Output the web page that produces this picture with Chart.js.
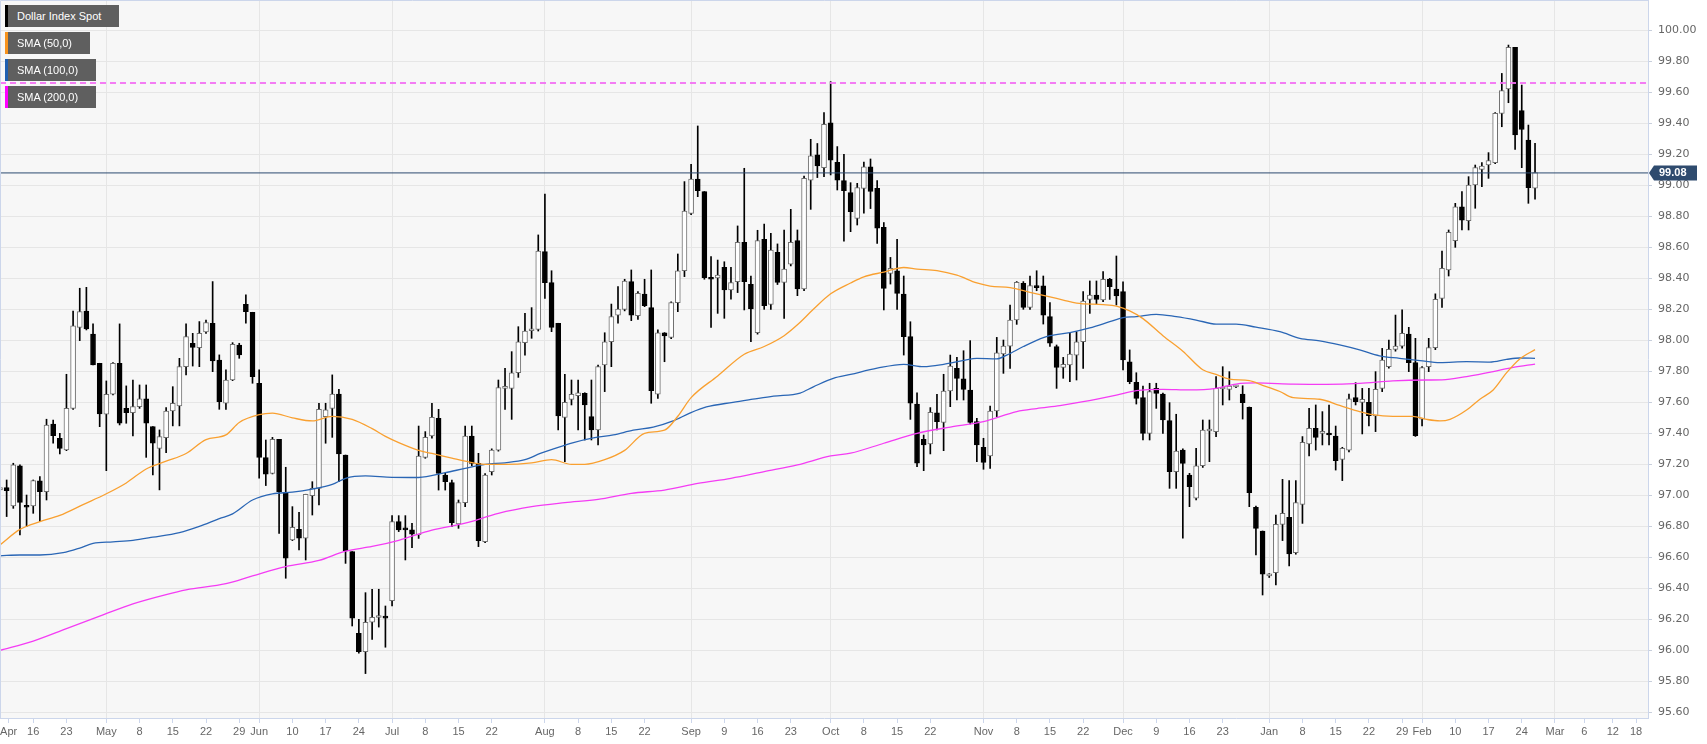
<!DOCTYPE html>
<html>
<head>
<meta charset="utf-8">
<script src="https://cdn.jsdelivr.net/npm/chart.js@4.4.1/dist/chart.umd.min.js"></script>
<style>
html,body{margin:0;padding:0;background:#fff;}
#wrap{position:relative;width:1707px;height:744px;overflow:hidden;}
canvas{display:block;}
.lg{position:absolute;left:5px;height:22px;background:#5f5f5f;color:#fff;font:11px 'Liberation Sans',Arial,sans-serif;line-height:22px;padding-left:9px;box-sizing:border-box;border-left:3px solid #000;white-space:nowrap;}
</style>
</head>
<body>
<div id="wrap">
<canvas id="c" width="1707" height="744"></canvas>
<div class="lg" style="top:5px;width:114px;border-left-color:#000;">Dollar Index Spot</div>
<div class="lg" style="top:32px;width:85px;border-left-color:#f7931e;">SMA (50,0)</div>
<div class="lg" style="top:59px;width:91px;border-left-color:#1f5fb0;">SMA (100,0)</div>
<div class="lg" style="top:86px;width:91px;border-left-color:#ff00ff;">SMA (200,0)</div>
</div>
<script>
// ---------- DATA ----------
// x positions are trading-day indices (0 = 9 Apr 2019, weekdays only)
const xTickPos    = [1.3,5,10,16,21,26,31,36,39,44,49,54,59,64,69,74,82,87,92,97,104,109,114,119,125,130,135,140,148,153,158,163,169,174,179,184,191,196,201,206,211,214,219,224,229,234,238.4,242.7,246.2];
const xTickLabels = ['Apr','16','23','May','8','15','22','29','Jun','10','17','24','Jul','8','15','22','Aug','8','15','22','Sep','9','16','23','Oct','8','15','22','Nov','8','15','22','Dec','9','16','23','Jan','8','15','22','29','Feb','10','17','24','Mar','6','12','18'];
const monthPos    = [16,39,59,82,104,125,148,169,191,214,234];
const yTicks      = [95.6,95.8,96.0,96.2,96.4,96.6,96.8,97.0,97.2,97.4,97.6,97.8,98.0,98.2,98.4,98.6,98.8,99.0,99.2,99.4,99.6,99.8,100.0];

const opens = [97.035,97.050,96.931,97.190,96.931,96.931,97.093,97.024,97.460,97.368,97.293,97.561,98.084,98.189,98.041,97.852,97.523,97.652,97.852,97.561,97.533,97.572,97.622,97.443,97.303,97.372,97.544,97.577,97.830,97.981,97.953,98.054,98.110,97.873,97.594,97.744,97.970,98.232,98.181,97.723,97.243,97.142,97.362,97.017,96.712,96.781,96.723,96.998,97.045,97.508,97.561,97.654,97.260,96.637,96.110,95.992,96.181,96.212,96.210,96.321,96.830,96.781,96.777,96.745,97.245,97.383,97.497,97.131,97.082,96.815,96.953,97.383,97.206,96.701,97.153,97.292,97.690,97.690,97.791,97.985,98.062,98.071,98.572,98.372,98.110,97.503,97.619,97.643,97.658,97.508,97.422,97.841,97.991,98.163,98.200,98.379,98.159,98.299,98.211,97.652,98.049,98.019,98.243,98.449,98.819,99.041,98.959,98.404,98.402,98.471,98.325,98.379,98.632,98.361,98.049,98.652,98.232,98.568,98.374,98.492,98.643,98.331,99.034,99.196,99.114,99.404,99.148,99.030,98.953,98.787,98.980,99.120,98.980,98.729,98.432,98.449,98.299,98.024,97.589,97.361,97.331,97.533,97.471,97.673,97.819,97.751,97.679,97.475,97.310,97.254,97.544,97.912,97.963,98.131,98.368,98.213,98.345,98.351,98.153,97.959,97.826,97.841,97.905,97.991,98.264,98.292,98.260,98.394,98.331,98.314,97.862,97.729,97.630,97.400,97.690,97.654,97.482,97.153,97.292,97.131,96.981,97.191,97.415,97.411,97.686,97.684,97.700,97.654,97.568,96.923,96.770,96.480,96.501,96.813,96.858,96.630,96.942,97.331,97.432,97.400,97.392,97.383,97.232,97.292,97.630,97.600,97.600,97.512,97.690,97.830,97.942,97.963,98.041,97.856,97.492,97.830,97.953,98.271,98.454,98.643,98.862,98.772,99.002,99.103,99.131,99.146,99.464,99.622,99.890,99.482,99.292,98.981];
const highs = [97.099,97.099,97.207,97.196,97.002,97.099,97.121,97.491,97.486,97.400,97.781,98.189,98.336,98.342,98.106,97.852,97.738,97.856,98.106,97.706,97.744,97.712,97.712,97.443,97.422,97.566,97.701,97.884,98.106,98.045,98.121,98.131,98.379,97.906,97.809,97.985,97.981,98.293,98.181,97.809,97.357,97.374,97.362,97.181,96.927,96.890,97.007,97.088,97.594,97.594,97.777,97.684,97.260,96.637,96.200,96.372,96.394,96.394,96.286,96.869,96.869,96.869,96.820,97.447,97.411,97.594,97.555,97.142,97.099,96.970,97.447,97.447,97.271,97.140,97.300,97.744,97.819,97.927,98.088,98.174,98.211,98.680,98.944,98.449,98.110,97.781,97.744,97.744,97.662,97.744,97.841,98.049,98.234,98.346,98.394,98.454,98.314,98.394,98.454,98.067,98.050,98.249,98.557,99.024,99.135,99.383,98.960,98.540,98.518,98.507,98.471,98.738,99.110,98.415,98.710,98.750,98.690,98.622,98.712,98.845,98.712,99.060,99.297,99.270,99.469,99.669,99.250,99.200,99.017,99.013,99.150,99.170,99.030,98.760,98.535,98.652,98.415,98.120,97.662,97.389,97.566,97.652,97.781,97.905,97.890,97.933,97.998,97.497,97.368,97.576,98.019,98.002,98.228,98.379,98.379,98.415,98.449,98.415,98.243,97.970,97.890,98.045,98.056,98.314,98.383,98.383,98.443,98.400,98.544,98.378,97.938,97.791,97.705,97.723,97.723,97.660,97.598,97.523,97.300,97.142,97.303,97.486,97.486,97.766,97.830,97.798,97.710,97.707,97.570,96.931,96.770,96.495,96.873,97.103,97.095,97.095,97.379,97.561,97.583,97.540,97.583,97.447,97.310,97.654,97.727,97.690,97.690,97.798,97.948,98.002,98.163,98.196,98.084,98.013,97.830,98.013,98.300,98.576,98.712,98.884,98.959,99.056,99.131,99.146,99.211,99.470,99.722,99.905,99.890,99.647,99.389,99.271];
const lows  = [96.992,96.863,96.916,96.744,96.798,96.884,96.830,96.970,97.336,97.267,97.288,97.555,97.998,98.067,97.841,97.443,97.159,97.648,97.454,97.465,97.383,97.561,97.245,97.131,97.035,97.276,97.448,97.448,97.777,97.834,97.830,98.045,97.798,97.555,97.555,97.740,97.884,98.110,97.723,97.110,97.063,97.138,96.755,96.465,96.708,96.647,96.583,96.873,96.938,97.336,97.374,97.088,96.561,96.157,95.981,95.850,96.071,96.150,96.020,96.286,96.766,96.583,96.663,96.722,97.239,97.368,97.034,97.034,96.798,96.787,96.927,97.190,96.669,96.695,97.131,97.285,97.555,97.490,97.761,97.905,98.013,98.060,98.271,98.056,97.422,97.217,97.583,97.422,97.357,97.357,97.325,97.669,97.830,98.110,98.190,98.127,98.135,98.217,97.594,97.626,97.862,98.010,98.185,98.411,98.810,98.927,98.394,98.084,98.174,98.142,98.265,98.308,98.196,97.991,98.040,98.200,98.200,98.360,98.142,98.480,98.288,98.320,98.845,99.050,99.056,99.067,98.970,98.640,98.701,98.744,98.820,98.850,98.626,98.196,98.363,98.200,97.905,97.490,97.185,97.159,97.267,97.422,97.288,97.572,97.615,97.615,97.460,97.217,97.168,97.174,97.508,97.787,97.819,98.103,98.200,98.200,98.320,98.105,97.960,97.690,97.755,97.733,97.744,97.819,98.174,98.234,98.250,98.264,98.228,97.809,97.720,97.589,97.357,97.357,97.561,97.400,97.045,97.045,96.723,96.927,96.970,97.180,97.217,97.378,97.583,97.615,97.695,97.492,96.927,96.615,96.357,96.470,96.422,96.708,96.544,96.620,96.819,97.254,97.292,97.325,97.325,97.163,97.095,97.280,97.583,97.396,97.447,97.411,97.669,97.820,97.930,97.950,97.798,97.380,97.447,97.798,97.940,98.213,98.415,98.600,98.712,98.712,98.852,98.991,99.045,99.140,99.378,99.533,99.232,99.114,98.884,98.910];
const closes = [97.050,97.030,97.196,96.955,96.923,97.095,97.024,97.454,97.385,97.303,97.561,98.093,98.185,98.073,97.841,97.525,97.652,97.852,97.465,97.533,97.572,97.622,97.465,97.336,97.379,97.544,97.594,97.830,98.024,97.955,98.045,98.114,97.867,97.605,97.744,97.974,97.906,98.185,97.766,97.245,97.136,97.362,97.024,96.594,96.794,96.723,97.007,97.045,97.555,97.551,97.654,97.267,96.641,96.207,95.992,96.181,96.213,96.220,96.208,96.830,96.777,96.777,96.749,97.254,97.374,97.503,97.142,97.088,96.824,96.953,97.383,97.206,96.708,97.131,97.292,97.695,97.701,97.791,97.991,98.060,98.071,98.576,98.372,98.084,97.512,97.600,97.652,97.662,97.583,97.422,97.830,97.991,98.153,98.202,98.383,98.163,98.303,98.224,97.675,98.049,98.028,98.243,98.449,98.834,99.041,98.966,98.404,98.394,98.421,98.325,98.372,98.632,98.379,98.202,98.643,98.224,98.583,98.374,98.460,98.632,98.331,99.045,99.191,99.125,99.393,99.163,99.034,98.966,98.830,98.985,99.120,98.960,98.723,98.335,98.465,98.303,98.024,97.594,97.207,97.325,97.535,97.475,97.673,97.834,97.755,97.684,97.471,97.325,97.213,97.544,97.920,97.963,98.131,98.374,98.213,98.353,98.340,98.163,97.981,97.826,97.845,97.912,97.991,98.254,98.292,98.264,98.394,98.346,98.286,97.873,97.733,97.626,97.400,97.669,97.658,97.486,97.153,97.286,97.206,97.056,97.191,97.421,97.421,97.690,97.690,97.705,97.702,97.598,97.017,96.787,96.492,96.490,96.813,96.884,96.622,96.953,97.342,97.432,97.374,97.405,97.389,97.224,97.303,97.622,97.604,97.619,97.514,97.684,97.873,97.942,97.963,98.045,97.856,97.385,97.824,97.953,98.264,98.464,98.697,98.862,98.776,99.002,99.114,99.125,99.159,99.464,99.611,99.890,99.325,99.360,98.985,99.082];

const sma50X = [0,3,6,9,12.5,16,19,22,25,28,31,34,36,39,41,44,47,50,53,56,58,60,63,65,68,70,73,76,80,83,86,88,91,94,97,100,102,104,108,112,115,118,120,122.4,125,128,130,133,136,138,141,144,147,149,152,155,158,160,162,166,168,170,172,175,178,181,183,185,188,190,192.6,194.6,198.6,201.6,204.6,206.6,209.6,212.6,214.7,216.7,218.2,220.7,222.7,224.7,226.7,228.7,231];
const sma50Y = [96.68,96.78,96.83,96.87,96.94,97.01,97.08,97.17,97.22,97.27,97.36,97.39,97.47,97.52,97.53,97.50,97.48,97.51,97.49,97.43,97.38,97.34,97.29,97.27,97.24,97.22,97.20,97.20,97.21,97.23,97.20,97.20,97.23,97.29,97.40,97.42,97.51,97.63,97.77,97.91,97.96,98.03,98.10,98.20,98.30,98.37,98.41,98.44,98.47,98.46,98.45,98.42,98.37,98.35,98.34,98.31,98.28,98.26,98.24,98.23,98.22,98.19,98.14,98.03,97.93,97.81,97.78,97.75,97.74,97.71,97.67,97.63,97.62,97.58,97.54,97.52,97.51,97.51,97.49,97.48,97.49,97.55,97.62,97.68,97.79,97.88,97.94];
const sma100X = [0,3,6,9.5,12,14,17,20,23,27,30,33,35,38,41,44,47,50,52,55,59,63,67,70,73,76,79,81.3,83.3,86.3,89.3,92.3,95.3,98.3,101.3,103.8,106.3,110.3,113.3,116.4,120.4,122.4,125.4,128,132,136,139,142,145,147,150,151.5,154,156,158,161,164,167,169,171,174,177,180,183,186,189,192.6,195.6,198.6,201.6,204.6,207.6,210.6,213.7,216.7,220.7,224.2,226.7,228.7,231];
const sma100Y = [96.61,96.615,96.615,96.63,96.66,96.69,96.70,96.71,96.73,96.76,96.80,96.85,96.88,96.97,97.01,97.02,97.04,97.07,97.11,97.125,97.116,97.115,97.146,97.174,97.20,97.21,97.23,97.27,97.30,97.34,97.37,97.39,97.42,97.44,97.48,97.53,97.57,97.60,97.62,97.64,97.66,97.70,97.755,97.78,97.82,97.845,97.83,97.845,97.87,97.884,97.88,97.905,97.96,98.00,98.03,98.05,98.08,98.12,98.146,98.153,98.168,98.153,98.131,98.105,98.105,98.085,98.056,98.013,97.996,97.97,97.938,97.90,97.884,97.869,97.856,97.862,97.86,97.877,97.886,97.884];
const sma200X = [0,5,10,15,20,25,28,34,38,43,48,52,56,60,65,70,75,80,85,90,95,100,105,110,115,120,125,128,133,138,143,148,153,156,159.5,163,168,171,175,179,183,186,189,194.6,199.6,204.6,209.6,214.7,217,220.7,224.7,227.7,231];
const sma200Y = [96.00,96.06,96.14,96.22,96.30,96.36,96.39,96.43,96.48,96.54,96.58,96.64,96.67,96.71,96.776,96.82,96.884,96.927,96.953,96.974,97.013,97.034,97.077,97.11,97.153,97.196,97.254,97.272,97.336,97.40,97.44,97.475,97.54,97.56,97.579,97.604,97.647,97.675,97.684,97.68,97.69,97.718,97.725,97.718,97.716,97.722,97.738,97.744,97.745,97.766,97.798,97.826,97.847];

const lastPrice = 99.08;
const resistance = 99.66;
const X_MIN = 0, X_MAX = 248;

// ---------- BUILD ----------
const wickData = opens.map((o,i)=>({x:i, y:[lows[i], highs[i]]}));
const bodyData = opens.map((o,i)=>({x:i, y:[o, closes[i]]}));
const isUp = opens.map((o,i)=>closes[i] >= o);
const pts = (xs, ys) => xs.map((x,i)=>({x:x, y:ys[i]}));

const bgPlugin = {
  id:'bg',
  beforeDraw(chart){
    const {ctx, chartArea:a} = chart;
    ctx.save();
    ctx.fillStyle = '#ffffff';
    ctx.fillRect(0,0,chart.width,chart.height);
    ctx.fillStyle = '#f7f7f7';
    ctx.fillRect(a.left, a.top, a.right-a.left, a.bottom-a.top);
    ctx.restore();
  },
  afterDraw(chart){
    const {ctx, chartArea:a} = chart;
    ctx.save();
    ctx.strokeStyle = '#ccd6eb';
    ctx.lineWidth = 1;
    ctx.beginPath();
    ctx.moveTo(a.left+0.5, a.bottom); ctx.lineTo(a.left+0.5, a.top+0.5); ctx.lineTo(a.right, a.top+0.5);
    ctx.stroke();
    // last price label
    const y = chart.scales.y.getPixelForValue(lastPrice);
    const x0 = a.right + 1;
    ctx.fillStyle = '#2f4b6e';
    ctx.beginPath();
    ctx.moveTo(x0, y);
    ctx.lineTo(x0+5, y-7.5);
    ctx.lineTo(x0+48, y-7.5);
    ctx.lineTo(x0+48, y+7.5);
    ctx.lineTo(x0+5, y+7.5);
    ctx.closePath();
    ctx.fill();
    ctx.fillStyle = '#ffffff';
    ctx.font = 'bold 11px "Liberation Sans", Arial, sans-serif';
    ctx.textBaseline = 'middle';
    ctx.textAlign = 'left';
    ctx.fillText(lastPrice.toFixed(2), x0+10, y+0.5);
    ctx.restore();
  }
};

new Chart(document.getElementById('c'), {
  type: 'bar',
  data: {
    datasets: [
      { type:'line', data: pts([X_MIN, X_MAX],[resistance,resistance]), borderColor:'rgba(243,110,243,0.9)', borderWidth:2, borderDash:[6,4], pointRadius:0, order:0 },
      { type:'line', data: pts([X_MIN, X_MAX],[lastPrice,lastPrice]), borderColor:'#2c4a70', borderWidth:1, pointRadius:0, order:0 },
      { type:'line', data: pts(sma50X, sma50Y), borderColor:'#f9a030', borderWidth:1.3, pointRadius:0, cubicInterpolationMode:'monotone', order:1 },
      { type:'line', data: pts(sma100X, sma100Y), borderColor:'#2a66b5', borderWidth:1.3, pointRadius:0, cubicInterpolationMode:'monotone', order:1 },
      { type:'line', data: pts(sma200X, sma200Y), borderColor:'#f43cf4', borderWidth:1.3, pointRadius:0, cubicInterpolationMode:'monotone', order:1 },
      { type:'bar', data: bodyData, barThickness:5, minBarLength:2, grouped:false, borderSkipped:false,
        backgroundColor: isUp.map(u=>u?'#ffffff':'#000000'),
        borderColor: isUp.map(u=>u?'#707070':'#000000'),
        borderWidth:1, order:2 },
      { type:'bar', data: wickData, barThickness:1, grouped:false, backgroundColor:'#000000', borderWidth:0, order:3 }
    ]
  },
  options: {
    responsive:false,
    animation:false,
    devicePixelRatio:1,
    layout:{padding:0},
    plugins:{legend:{display:false}, tooltip:{enabled:false}},
    scales:{
      x:{
        type:'linear', min:X_MIN, max:X_MAX, offset:false,
        grid:{ offset:false, color:(c)=> (c.tick && monthPos.includes(c.tick.value)) ? '#e6e6e6' : 'rgba(0,0,0,0)', tickColor:'#ccd6eb', tickLength:5, lineWidth:1 },
        border:{display:true, color:'#ccd6eb'},
        afterBuildTicks:(s)=>{ s.ticks = xTickPos.map(v=>({value:v})); },
        afterFit:(s)=>{ s.height = 26; s.paddingLeft=0; s.paddingRight=0; s.paddingTop=0; s.paddingBottom=0; },
        ticks:{ autoSkip:false, maxRotation:0, minRotation:0, padding:2, color:'#666666',
          font:{family:"'Liberation Sans Narrow','Arial Narrow','Liberation Sans',sans-serif", size:11},
          callback:(v,i)=> xTickLabels[i] }
      },
      y:{
        type:'linear', position:'right', min:95.5634, max:100.1957, beginAtZero:false,
        grid:{ color:'#e6e6e6', tickColor:'#c8cfdc', tickLength:4, lineWidth:1 },
        border:{display:true, color:'#ccd6eb'},
        afterBuildTicks:(s)=>{ s.ticks = yTicks.map(v=>({value:v})); },
        afterFit:(s)=>{ s.width = 59; s.paddingTop=0; s.paddingBottom=0; s.paddingLeft=0; s.paddingRight=0; },
        ticks:{ padding:6, color:'#666666', font:{family:"'DejaVu Sans',sans-serif", size:11},
          callback:(v)=> Number(v).toFixed(2) }
      }
    }
  },
  plugins:[bgPlugin]
});
</script>
</body>
</html>
